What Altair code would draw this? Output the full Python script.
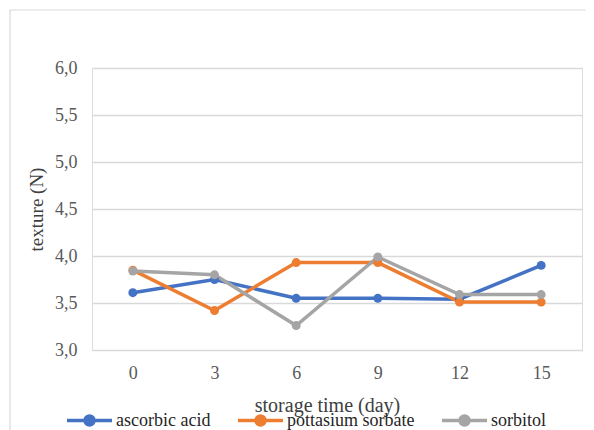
import altair as alt
import pandas as pd

days = ["0", "3", "6", "9", "12", "15"]
ascorbic = [3.61, 3.75, 3.55, 3.55, 3.54, 3.90]
potassium = [3.85, 3.42, 3.93, 3.93, 3.51, 3.51]
sorbitol = [3.84, 3.80, 3.26, 3.99, 3.59, 3.59]
series = ["ascorbic acid", "pottasium sorbate", "sorbitol"]
colors = ["#4472C4", "#ED7D31", "#A5A5A5"]
y_ticks = [3.0, 3.5, 4.0, 4.5, 5.0, 5.5, 6.0]

rows = []
for name, vals in zip(series, [ascorbic, potassium, sorbitol]):
    for d, v in zip(days, vals):
        rows.append({"day": d, "texture": v, "series": name})
df = pd.DataFrame(rows)

FONT = "Liberation Serif"
sym_path = "M-1,0L1,0M-0.2,0A0.2,0.2 0 1,1 0.2,0A0.2,0.2 0 1,1 -0.2,0Z"

x = alt.X("day:N", sort=days, title="storage time (day)",
          scale=alt.Scale(paddingInner=0, paddingOuter=0.5),
          axis=alt.Axis(labelAngle=0, ticks=False, domain=False, grid=False,
                        labelFont=FONT, labelFontSize=18, labelColor="#595959",
                        labelPadding=14, titleFont=FONT, titleFontSize=20,
                        titleFontWeight="normal", titleColor="#404040",
                        titleX=235, titleAlign="center",
                        titleY=61, titleBaseline="alphabetic"))
y = alt.Y("texture:Q", title="texture (N)",
          scale=alt.Scale(domain=[3, 6], nice=False, zero=False),
          axis=alt.Axis(values=y_ticks, ticks=False, domain=False,
                        gridColor="#D9D9D9", gridWidth=1.3,
                        labelExpr="replace(format(datum.value, '.1f'), '.', ',')",
                        labelFont=FONT, labelFontSize=18, labelColor="#595959",
                        labelPadding=15, titleFont=FONT, titleFontSize=19,
                        titleFontWeight="normal", titleColor="#404040",
                        titlePadding=8))
color = alt.Color("series:N", sort=series,
                  scale=alt.Scale(domain=series, range=colors),
                  legend=alt.Legend(title=None, orient="none", direction="horizontal",
                                    legendX=-27, legendY=328,
                                    symbolType=sym_path, symbolSize=2025,
                                    symbolStrokeWidth=3.5, columnPadding=20,
                                    labelFont=FONT, labelFontSize=18,
                                    labelColor="#262626", labelOffset=2))

base = alt.Chart(df)
lines = base.mark_line(strokeWidth=3.5).encode(x=x, y=y, color=color)
points = base.mark_point(filled=True, size=80, opacity=1).encode(x=x, y=y, color=color)

frame = alt.Chart(pd.DataFrame({"a": [0]})).mark_rect(
    fill=None, stroke="#D9D9D9", strokeWidth=1.2).encode(
    x=alt.value(-82), x2=alt.value(700), y=alt.value(-58), y2=alt.value(500))

chart = alt.layer(frame, lines, points).properties(
    width=490, height=282,
    autosize=alt.AutoSizeParams(type="none"),
    padding={"left": 84, "top": 60, "right": 4, "bottom": 80},
).configure_view(stroke=None).configure(background="white", font=FONT).configure_axis(
    labelFont=FONT, titleFont=FONT
).configure_legend(labelFont=FONT)

chart.save("out.html", embed_options={"renderer": "svg", "actions": False})
